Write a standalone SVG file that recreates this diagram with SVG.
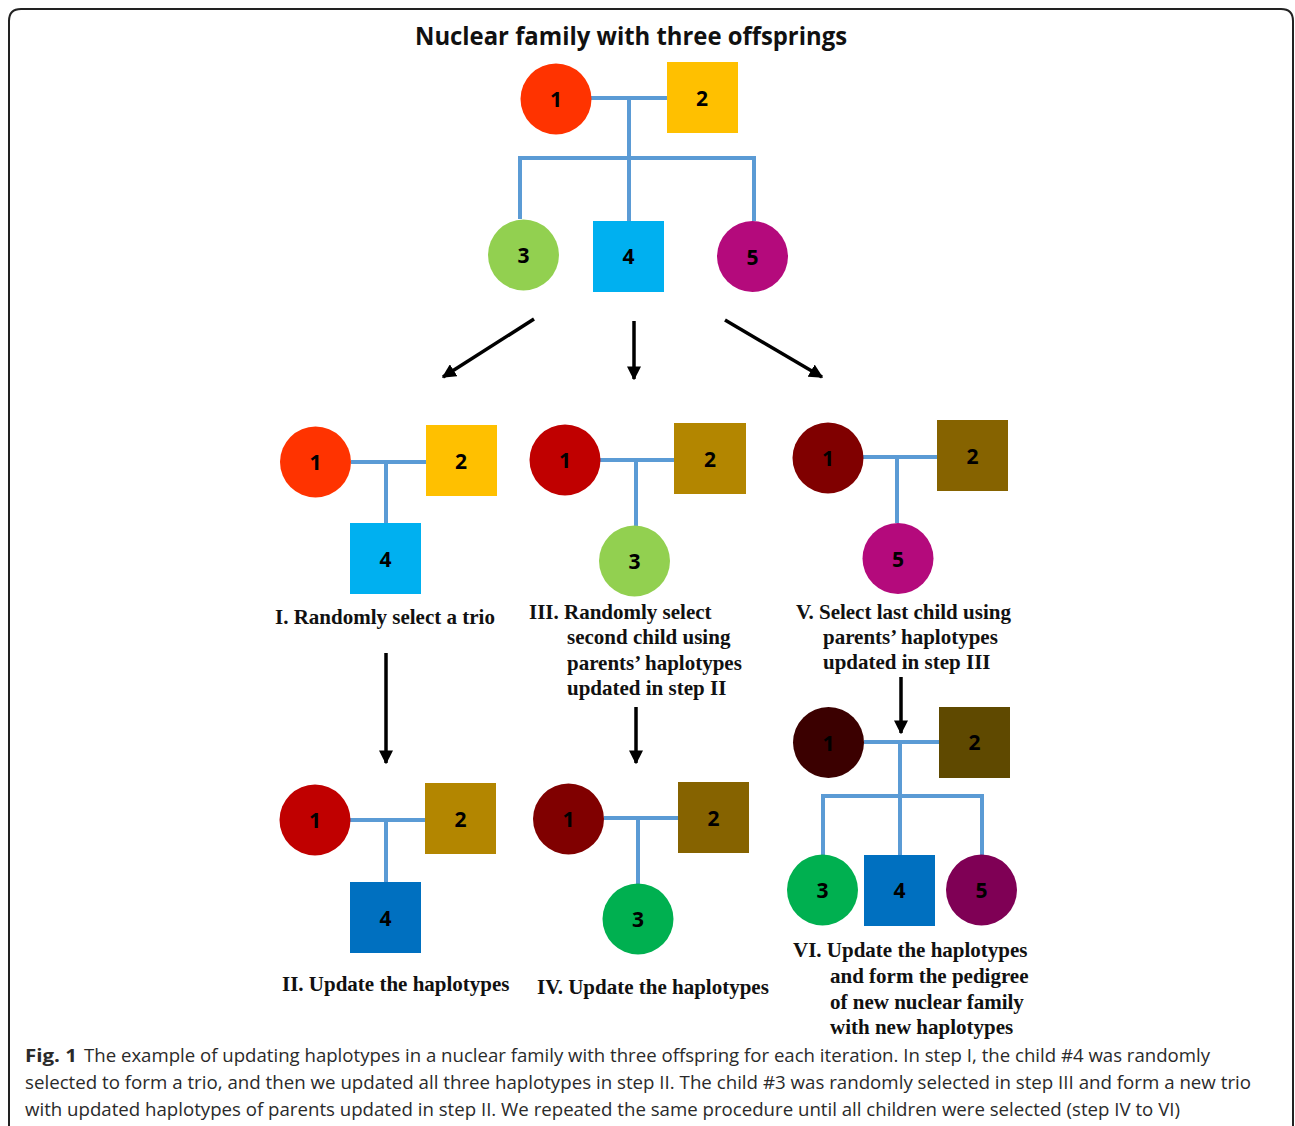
<svg xmlns="http://www.w3.org/2000/svg" width="1295" height="1126" viewBox="0 0 1295 1126">
<style>
.num{font-family:"Open Sans","Liberation Sans",sans-serif;font-weight:bold;font-size:21px;fill:#000;text-anchor:middle;dominant-baseline:central}
.lbl{font-family:"Liberation Serif","Times New Roman",serif;font-weight:bold;font-size:21px;fill:#111}
.rel{stroke:#5B9BD5;stroke-width:4;fill:none}
.arr{stroke:#000;stroke-width:3.5;fill:none;marker-end:url(#ah)}
.cap{font-family:"Open Sans","Liberation Sans",sans-serif;font-size:18.5px;fill:#2a2a2a}
</style>
<defs>
<marker id="ah" viewBox="0 0 10 10" refX="9" refY="5" markerWidth="14" markerHeight="14" markerUnits="userSpaceOnUse" orient="auto">
<path d="M0,0 L10,5 L0,10 z" fill="#000"/>
</marker>
</defs>
<rect width="1295" height="1126" fill="#fff"/>
<path d="M9,1126 V21 Q9,9 21,9 H1281 Q1293,9 1293,21 V1126" fill="none" stroke="#222" stroke-width="2"/>
<text x="631" y="45" text-anchor="middle" font-family="'Open Sans','Liberation Sans',sans-serif" font-weight="bold" font-size="25" textLength="432" lengthAdjust="spacingAndGlyphs" fill="#111">Nuclear family with three offsprings</text>

<g id="connectors">
<path class="rel" d="M591,98 H667 M629,98 V221 M520,219 V158 H754 V221"/>
<path class="rel" d="M351,462 H426 M386,462 V523"/>
<path class="rel" d="M600,460 H674 M636,460 V526"/>
<path class="rel" d="M863,457 H937 M897,457 V523"/>
<path class="rel" d="M350,820 H425 M386,820 V882"/>
<path class="rel" d="M604,818 H678 M638,818 V884"/>
<path class="rel" d="M864,742 H939 M900,742 V855 M823,855 V796 H982 V855"/>
<line class="arr" x1="534" y1="319" x2="443" y2="377"/>
<line class="arr" x1="634" y1="321" x2="634" y2="379"/>
<line class="arr" x1="725" y1="320" x2="822" y2="377"/>
<line class="arr" x1="386" y1="653" x2="386" y2="763"/>
<line class="arr" x1="636" y1="707" x2="636" y2="763"/>
<line class="arr" x1="901" y1="677" x2="901" y2="733"/>
</g>

<g id="top-1"><circle cx="556" cy="99" r="35.5" fill="#FF3300"/><text class="num" x="556" y="99">1</text></g>
<g id="top-2"><rect x="667" y="62" width="71" height="71" fill="#FFC000"/><text class="num" x="702" y="98">2</text></g>
<g id="top-3"><circle cx="523.5" cy="255" r="35.5" fill="#92D050"/><text class="num" x="523.5" y="255">3</text></g>
<g id="top-4"><rect x="593" y="221" width="71" height="71" fill="#00B0F0"/><text class="num" x="628.5" y="256">4</text></g>
<g id="top-5"><circle cx="752.5" cy="256.5" r="35.5" fill="#B40A7C"/><text class="num" x="752.5" y="257">5</text></g>

<g id="I-1"><circle cx="315.5" cy="462" r="35.5" fill="#FF3300"/><text class="num" x="315.5" y="462">1</text></g>
<g id="I-2"><rect x="426" y="425" width="71" height="71" fill="#FFC000"/><text class="num" x="461" y="461">2</text></g>
<g id="I-4"><rect x="350" y="523" width="71" height="71" fill="#00B0F0"/><text class="num" x="385.5" y="559">4</text></g>
<text class="lbl" x="275" y="624">I. Randomly select a trio</text>

<g id="III-1"><circle cx="565" cy="460" r="35.5" fill="#C00000"/><text class="num" x="565" y="460">1</text></g>
<g id="III-2"><rect x="674" y="423" width="72" height="71" fill="#B38600"/><text class="num" x="710" y="459">2</text></g>
<g id="III-3"><circle cx="634.5" cy="561" r="35.5" fill="#92D050"/><text class="num" x="634.5" y="561">3</text></g>
<text class="lbl" x="529" y="619">III. Randomly select</text>
<text class="lbl" x="567" y="644">second child using</text>
<text class="lbl" x="567" y="670">parents’ haplotypes</text>
<text class="lbl" x="567" y="695">updated in step II</text>

<g id="V-1"><circle cx="828" cy="458" r="35.5" fill="#800000"/><text class="num" x="828" y="458">1</text></g>
<g id="V-2"><rect x="937" y="420" width="71" height="71" fill="#866300"/><text class="num" x="972.5" y="456">2</text></g>
<g id="V-5"><circle cx="898" cy="558.5" r="35.5" fill="#B40A7C"/><text class="num" x="898" y="559">5</text></g>
<text class="lbl" x="796" y="619">V. Select last child using</text>
<text class="lbl" x="823" y="644">parents’ haplotypes</text>
<text class="lbl" x="823" y="669">updated in step III</text>

<g id="II-1"><circle cx="315" cy="820" r="35.5" fill="#C00000"/><text class="num" x="315" y="820">1</text></g>
<g id="II-2"><rect x="425" y="783" width="71" height="71" fill="#B38600"/><text class="num" x="460.5" y="819">2</text></g>
<g id="II-4"><rect x="350" y="882" width="71" height="71" fill="#0070C0"/><text class="num" x="385.5" y="918">4</text></g>
<text class="lbl" x="282" y="991">II. Update the haplotypes</text>

<g id="IV-1"><circle cx="568.5" cy="819" r="35.5" fill="#800000"/><text class="num" x="568.5" y="819">1</text></g>
<g id="IV-2"><rect x="678" y="782" width="71" height="71" fill="#866300"/><text class="num" x="713.5" y="818">2</text></g>
<g id="IV-3"><circle cx="638" cy="919" r="35.5" fill="#00B050"/><text class="num" x="638" y="919">3</text></g>
<text class="lbl" x="537" y="994">IV. Update the haplotypes</text>

<g id="VI-1"><circle cx="828.5" cy="742.5" r="35.5" fill="#3B0000"/><text class="num" x="828.5" y="743">1</text></g>
<g id="VI-2"><rect x="939" y="707" width="71" height="71" fill="#5F4900"/><text class="num" x="974.5" y="742">2</text></g>
<g id="VI-3"><circle cx="822.5" cy="890" r="35.5" fill="#00B050"/><text class="num" x="822.5" y="890">3</text></g>
<g id="VI-4"><rect x="864" y="855" width="71" height="71" fill="#0070C0"/><text class="num" x="899.5" y="890">4</text></g>
<g id="VI-5"><circle cx="981.5" cy="890" r="35.5" fill="#7F0055"/><text class="num" x="981.5" y="890">5</text></g>
<text class="lbl" x="793" y="957">VI. Update the haplotypes</text>
<text class="lbl" x="830" y="983">and form the pedigree</text>
<text class="lbl" x="830" y="1009">of new nuclear family</text>
<text class="lbl" x="830" y="1034">with new haplotypes</text>

<g id="caption">
<text class="cap" x="25" y="1062" font-weight="bold" font-size="20" fill="#111" textLength="52" lengthAdjust="spacingAndGlyphs">Fig. 1</text>
<text class="cap" x="84" y="1062" textLength="1126" lengthAdjust="spacingAndGlyphs">The example of updating haplotypes in a nuclear family with three offspring for each iteration. In step I, the child #4 was randomly</text>
<text class="cap" x="25" y="1089" textLength="1226" lengthAdjust="spacingAndGlyphs">selected to form a trio, and then we updated all three haplotypes in step II. The child #3 was randomly selected in step III and form a new trio</text>
<text class="cap" x="25" y="1116" textLength="1155" lengthAdjust="spacingAndGlyphs">with updated haplotypes of parents updated in step II. We repeated the same procedure until all children were selected (step IV to VI)</text>
</g>
</svg>
